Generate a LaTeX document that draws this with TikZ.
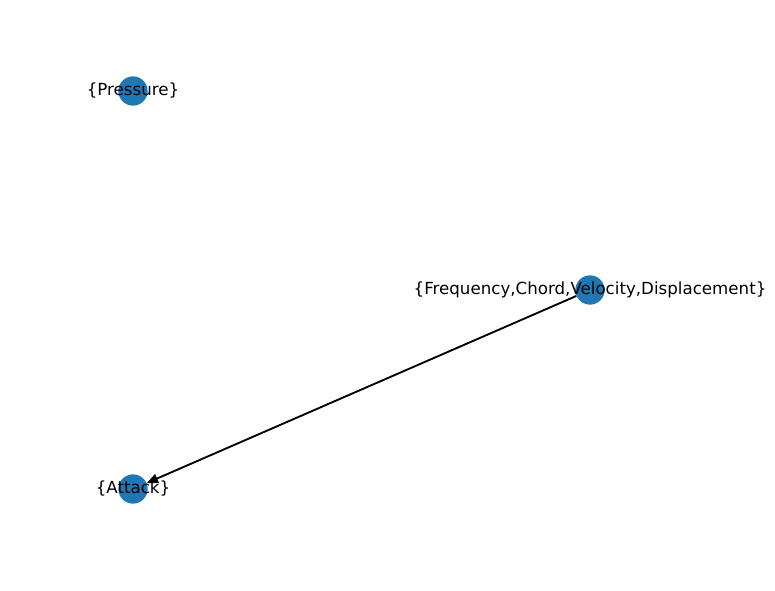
\documentclass[tikz,border=0pt]{standalone}
\usepackage{fontspec}
\setmainfont{DejaVu Sans}
\usetikzlibrary{arrows.meta,positioning,calc}
\definecolor{nodeblue}{HTML}{1F77B4}
\tikzstyle{vertex}=[fill=nodeblue,circle,minimum size=22pt,inner sep=0pt]
\tikzstyle{vlabel}=[font=\fontsize{12.5pt}{14pt}\selectfont,inner sep=0pt]

\begin{document}
\begin{tikzpicture}[x=0.75pt,y=-0.75pt,>={Triangle[length=8.5pt,width=7pt]}]
\useasboundingbox (0,0) rectangle (775,590);
\node [vertex] (pressure) at (133,91) {};
\node [vertex] (freq) at (590,290) {};
\node [vertex] (attack) at (133,489) {};
\draw [line width=1.4pt,->] (freq) -- (attack);
\node [vlabel] (pressurelabel) at (pressure) {\{Pressure\}};
\node [vlabel] (freqlabel) at (freq) {\{Frequency,Chord,Velocity,Displacement\}};
\node [vlabel] (attacklabel) at (attack) {\{Attack\}};
\end{tikzpicture}
\end{document}
